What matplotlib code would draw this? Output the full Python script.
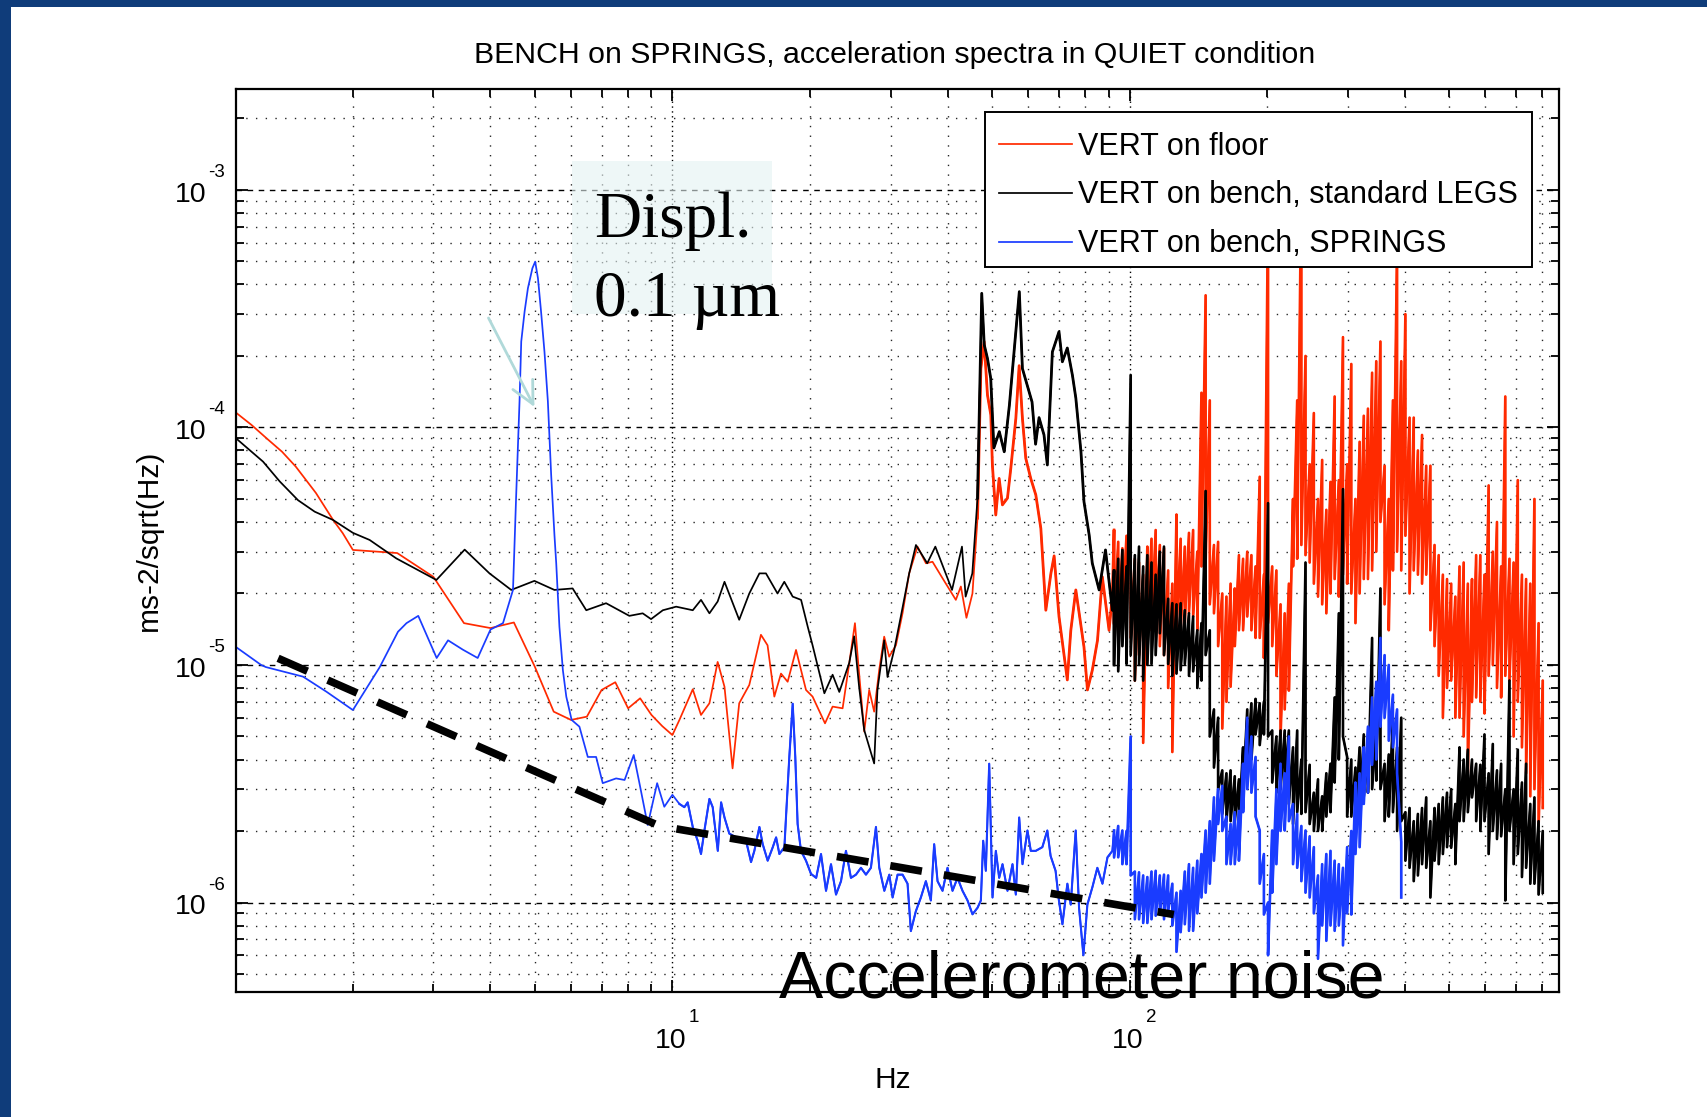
import matplotlib
matplotlib.use('Agg')
import matplotlib.pyplot as plt
import numpy as np
from matplotlib.patches import Rectangle
from matplotlib.ticker import LogLocator, NullFormatter
from matplotlib import transforms as mtransforms

plt.rcParams['font.family'] = ['Liberation Sans', 'DejaVu Sans']

# ---------------- data (Hz, m s^-2 / sqrt(Hz)) ----------------
red_low = [(1.1, 1.17e-4), (1.2, 1.025e-4), (1.3, 8.94e-5), (1.4, 7.9e-5), (1.5, 6.84e-5),
           (1.66, 5.3e-5), (1.81, 4.08e-5), (1.9, 3.59e-5), (2.0, 3.05e-5), (2.5, 2.96e-5),
           (3.0, 2.35e-5), (3.5, 1.5e-5), (4.0, 1.43e-5), (4.5, 1.51e-5), (5.0, 9.84e-6),
           (5.5, 6.36e-6), (6.0, 5.87e-6), (6.5, 6.06e-6), (7.0, 7.85e-6), (7.5, 8.46e-6),
           (8.0, 6.57e-6), (8.5, 7.24e-6), (9.0, 6.16e-6), (9.5, 5.53e-6), (10.0, 5.07e-6)]
red_mid = [(10.36, 5.87e-6), (11.08, 7.9e-6), (11.55, 6.16e-6), (12.05, 6.9e-6), (12.56, 1.03e-5),
           (13.0, 8.1e-6), (13.54, 3.67e-6), (14.0, 6.9e-6), (14.73, 8.24e-6), (15.62, 1.34e-5),
           (16.15, 1.21e-5), (16.71, 7.36e-6), (17.28, 9.2e-6), (17.87, 8.5e-6), (18.64, 1.157e-5),
           (19.6, 7.85e-6), (20.26, 7.36e-6), (21.57, 5.68e-6), (22.41, 6.68e-6), (23.57, 6.57e-6),
           (24.37, 1.016e-5), (25.08, 1.5e-5), (25.5, 1.016e-5), (26.28, 5.24e-6), (26.95, 7.85e-6),
           (27.63, 6.36e-6), (28.34, 9.53e-6), (29.06, 1.316e-5), (29.8, 1.084e-5), (30.83, 1.21e-5),
           (31.87, 1.65e-5), (32.96, 2.43e-5), (34.37, 3.15e-5), (35.86, 2.68e-5), (37.07, 2.72e-5),
           (38.98, 2.32e-5), (41.69, 1.88e-5), (42.76, 2.14e-5), (43.98, 1.58e-5), (45.33, 2.0e-5),
           (46.5, 4.15e-5), (47.29, 1.77e-4), (48.08, 2.3e-4), (48.89, 1.37e-4), (49.72, 1.13e-4),
           (50.12, 6.95e-5), (50.98, 4.28e-5), (51.85, 6.1e-5), (52.72, 4.72e-5), (54.07, 5.04e-5),
           (54.99, 6.73e-5), (56.4, 1.09e-4), (57.35, 1.82e-4), (58.31, 1.09e-4), (59.3, 7.41e-5),
           (60.8, 6.1e-5), (62.37, 5.2e-5), (63.97, 3.76e-5), (65.6, 1.7e-5), (67.3, 2.43e-5),
           (68.4, 2.88e-5), (70.1, 1.6e-5), (73.1, 8.65e-6), (74.4, 1.4e-5), (76.3, 2.07e-5),
           (77.6, 1.65e-5), (79.5, 1.19e-5), (80.9, 7.85e-6), (82.9, 9.5e-6), (85.1, 1.27e-5),
           (87.2, 2.35e-5), (90.2, 1.4e-5), (91.7, 1.94e-5)]

black_low = [(1.11, 9.0e-5), (1.272, 7.18e-5), (1.383, 5.93e-5), (1.517, 4.94e-5), (1.65, 4.42e-5),
             (1.809, 4.08e-5), (2.0, 3.6e-5), (2.176, 3.36e-5), (2.489, 2.81e-5), (3.046, 2.28e-5),
             (3.512, 3.06e-5), (3.98, 2.43e-5), (4.44, 2.07e-5), (4.99, 2.26e-5), (5.52, 2.07e-5),
             (6.05, 2.1e-5), (6.48, 1.7e-5), (7.16, 1.82e-5), (8.05, 1.61e-5), (8.61, 1.65e-5),
             (8.98, 1.56e-5), (9.53, 1.7e-5), (10.19, 1.76e-5)]
black_mid = [(11.08, 1.7e-5), (11.55, 1.88e-5), (12.05, 1.65e-5), (12.56, 1.85e-5), (13.0, 2.24e-5),
             (14.0, 1.55e-5), (14.73, 2.0e-5), (15.5, 2.43e-5), (16.02, 2.43e-5), (16.98, 2.0e-5),
             (17.57, 2.24e-5), (18.33, 1.94e-5), (19.12, 1.88e-5), (19.77, 1.45e-5), (20.26, 1.21e-5),
             (21.5, 7.6e-6), (22.41, 9.1e-6), (23.18, 7.7e-6), (24.37, 1.02e-5), (24.98, 1.32e-5),
             (25.61, 8.1e-6), (26.28, 5.32e-6), (27.63, 3.85e-6), (28.09, 7.85e-6), (29.06, 1.27e-5),
             (29.55, 8.9e-6), (30.57, 1.16e-5), (31.6, 1.6e-5), (32.96, 2.43e-5), (34.1, 3.2e-5),
             (36.1, 2.68e-5), (37.6, 3.15e-5), (40.9, 2.07e-5), (43.0, 3.15e-5), (43.8, 1.94e-5),
             (45.3, 2.43e-5), (46.5, 5.04e-5), (47.5, 3.67e-4), (48.1, 2.23e-4), (48.9, 1.95e-4),
             (49.7, 1.61e-4), (50.5, 8.2e-5), (51.9, 9.6e-5), (53.2, 7.9e-5), (54.6, 1.24e-4),
             (57.4, 3.73e-4), (58.3, 1.77e-4), (61.2, 1.28e-4), (62.3, 8.5e-5), (63.4, 1.1e-4),
             (65.0, 9.3e-5), (66.1, 6.95e-5), (67.8, 2.08e-4), (70.1, 2.53e-4), (71.3, 1.89e-4),
             (73.1, 2.16e-4), (75.0, 1.66e-4), (76.3, 1.33e-4), (78.3, 7.9e-5), (79.5, 4.87e-5),
             (81.6, 3.53e-5), (82.9, 2.68e-5), (85.8, 2.07e-5), (88.6, 3.05e-5), (91.7, 1.7e-5)]

blue_low = [(1.11, 1.19e-5), (1.26, 1.0e-5), (1.29, 9.8e-6), (1.556, 8.93e-6), (1.75, 7.72e-6),
            (2.0, 6.46e-6), (2.29, 9.8e-6), (2.51, 1.38e-5), (2.62, 1.5e-5), (2.78, 1.61e-5),
            (3.05, 1.07e-5), (3.23, 1.27e-5), (3.48, 1.16e-5), (3.75, 1.07e-5), (4.0, 1.41e-5),
            (4.26, 1.5e-5), (4.48, 2.07e-5), (4.55, 5.04e-5), (4.63, 1.29e-4), (4.67, 2.3e-4),
            (4.75, 3.08e-4), (4.83, 3.86e-4), (4.94, 4.68e-4), (5.01, 4.99e-4), (5.08, 4.25e-4),
            (5.16, 3.08e-4), (5.25, 2.08e-4), (5.34, 1.29e-4), (5.43, 6.3e-5), (5.52, 3.53e-5),
            (5.57, 2.68e-5), (5.66, 1.45e-5), (5.76, 9.5e-6), (5.86, 7.35e-6), (6.02, 5.87e-6),
            (6.26, 5.5e-6), (6.53, 4.1e-6), (6.81, 4.1e-6), (7.04, 3.18e-6), (7.53, 3.33e-6),
            (7.86, 3.28e-6), (8.23, 4.18e-6), (8.47, 3.18e-6), (8.83, 2.12e-6), (9.26, 3.18e-6),
            (9.6, 2.53e-6), (10.0, 2.84e-6)]
blue_mid = [(10.36, 2.6e-6), (10.62, 2.52e-6), (10.8, 2.64e-6), (11.08, 2.08e-6), (11.36, 1.82e-6),
            (11.55, 1.6e-6), (11.75, 2.01e-6), (12.05, 2.73e-6), (12.25, 2.52e-6), (12.57, 1.65e-6),
            (12.78, 2.64e-6), (13.0, 2.28e-6), (13.32, 1.95e-6), (13.78, 1.88e-6), (14.49, 1.82e-6),
            (14.86, 1.48e-6), (15.11, 1.65e-6), (15.5, 2.08e-6), (15.76, 1.76e-6), (16.16, 1.5e-6),
            (16.58, 1.71e-6), (16.86, 1.88e-6), (17.14, 1.6e-6), (17.58, 1.71e-6), (17.72, 2.28e-6),
            (18.02, 4.1e-6), (18.33, 6.87e-6), (18.57, 4.1e-6), (18.79, 2.14e-6), (19.11, 1.65e-6),
            (19.6, 1.5e-6), (20.1, 1.32e-6), (20.63, 1.27e-6), (21.14, 1.6e-6), (21.68, 1.12e-6),
            (22.23, 1.45e-6), (22.8, 1.08e-6), (23.38, 1.23e-6), (23.97, 1.65e-6), (24.58, 1.27e-6),
            (25.21, 1.31e-6), (25.85, 1.4e-6), (26.51, 1.31e-6), (27.18, 1.4e-6), (27.88, 2.08e-6),
            (28.35, 1.4e-6), (29.08, 1.12e-6), (29.82, 1.31e-6), (30.32, 1.05e-6), (31.09, 1.31e-6),
            (31.88, 1.31e-6), (32.69, 1.2e-6), (33.24, 7.58e-7), (34.09, 9.2e-7), (34.96, 1.05e-6),
            (35.85, 1.23e-6), (36.76, 1.02e-6), (37.38, 1.76e-6), (38.02, 1.23e-6), (38.99, 1.12e-6),
            (39.98, 1.4e-6), (41.0, 1.12e-6), (42.04, 1.27e-6), (43.12, 1.12e-6), (44.22, 1.02e-6),
            (45.34, 8.92e-7), (46.5, 9.5e-7), (47.29, 1.02e-6), (47.85, 1.82e-6), (48.49, 1.36e-6),
            (49.32, 3.84e-6), (50.15, 1.05e-6), (51.0, 1.65e-6), (51.86, 1.27e-6), (52.74, 1.45e-6),
            (54.08, 1.12e-6), (55.46, 1.45e-6), (56.4, 1.08e-6), (57.36, 2.28e-6), (58.33, 1.45e-6),
            (59.8, 2.01e-6), (60.82, 1.65e-6), (62.36, 1.65e-6), (64.46, 1.71e-6), (66.09, 2.01e-6),
            (67.2, 1.57e-6), (68.9, 1.36e-6), (70.07, 1.02e-6), (71.32, 8.1e-7), (73.12, 1.2e-6),
            (74.37, 9.8e-7), (76.26, 2.01e-6), (77.55, 9.5e-7), (79.27, 6.0e-7), (80.87, 9.8e-7),
            (82.94, 1.16e-6), (85.04, 1.4e-6), (87.25, 1.2e-6), (89.49, 1.55e-6), (91.74, 1.65e-6)]

# dense high-frequency part: shared frequency slots; two readings per slot
# (the extremes the trace swings between inside that slot)
hf_freq = [92.5, 94.46, 96.46, 98.5, 100.59, 102.72, 104.9, 107.12, 109.39, 111.71,
           114.08, 116.49, 118.96, 121.48, 124.06, 126.69, 129.37, 132.11, 134.91, 137.77,
           140.69, 143.67, 146.72, 149.82, 153.0, 156.24, 159.55, 162.93, 166.38, 169.91,
           173.51, 177.18, 180.94, 184.77, 188.68, 192.68, 196.76, 200.93, 205.19, 209.54,
           213.98, 218.51, 223.14, 227.87, 232.7, 237.63, 242.66, 247.8, 253.05, 258.41,
           263.89, 269.48, 275.19, 281.02, 286.97, 293.05, 299.26, 305.6, 312.07, 318.69,
           325.44, 332.33, 339.37, 346.56, 353.9, 361.4, 369.06, 376.88, 384.86, 393.02,
           401.34, 409.84, 418.53, 427.4, 436.45, 445.7, 455.14, 464.78, 474.63, 484.69,
           494.96, 505.44, 516.15, 527.09, 538.26, 549.66, 561.31, 573.2, 585.34, 597.74,
           610.41, 623.34, 636.55, 650.03, 663.8, 677.87, 692.23, 706.9, 721.87, 737.17,
           752.79, 768.74, 785.02, 801.65]
red_hf_a = [3.7e-5, 1.4e-5, 3.1e-5, 1.7e-5, 5.1e-5, 8.6e-6, 2.7e-5, 4.7e-6, 3.15e-5, 1.4e-5,
            3.7e-5, 1.2e-5, 3.1e-5, 2.5e-5, 4.3e-6, 4.3e-5, 1.4e-5, 3.15e-5, 1.65e-5, 3.7e-5,
            1.4e-5, 1.4e-4, 3.6e-4, 1.3e-4, 1.65e-5, 3.3e-5, 5.4e-6, 1.94e-5, 8.1e-6, 2.1e-5,
            1.4e-5, 2.8e-5, 1.6e-5, 2.9e-5, 1.3e-5, 6.2e-5, 1.07e-5, 9e-4, 1.2e-5, 2.5e-5,
            5.0e-6, 1.65e-5, 7.8e-6, 5e-5, 1.3e-4, 1.2e-3, 2.0e-4, 2.7e-5, 1.15e-4, 1.94e-5,
            7.3e-5, 1.65e-5, 5.9e-5, 1.35e-4, 1.94e-5, 2.4e-4, 2.2e-5, 1.85e-4, 1.5e-5, 8.7e-5,
            2.3e-5, 1.2e-4, 2.5e-5, 1.9e-4, 2.3e-4, 6.9e-5, 1.4e-5, 1.3e-4, 6e-4, 2.5e-5,
            3.0e-4, 2.0e-5, 1.1e-4, 2.4e-5, 9.3e-5, 2.4e-5, 6.9e-5, 1.2e-5, 2.9e-5, 6.0e-6,
            2.3e-5, 8.6e-6, 1.94e-5, 6e-6, 2.7e-5, 3.5e-6, 2.3e-5, 7.3e-6, 2.9e-5, 6.25e-6,
            5.7e-5, 1.0e-5, 4e-5, 7.3e-6, 1.35e-4, 8.6e-6, 2.7e-5, 6e-5, 4.5e-6, 2.3e-5,
            2.8e-6, 5e-5, 2.1e-6, 8.6e-6]
red_hf_b = [1.5e-5, 3.3e-5, 1.6e-5, 3.5e-5, 1.3e-5, 2.8e-5, 1.1e-5, 2.4e-5, 1.3e-5, 3.4e-5,
            1.5e-5, 3.2e-5, 1.1e-5, 8e-6, 2.2e-5, 1.4e-5, 3.4e-5, 1.5e-5, 3.6e-5, 1.6e-5,
            3.0e-5, 2.6e-5, 2.7e-5, 1.8e-5, 3.2e-5, 1.2e-5, 2.0e-5, 7e-6, 2.2e-5, 1.2e-5,
            2.9e-5, 1.4e-5, 3.0e-5, 1.4e-5, 2.6e-5, 1.3e-5, 2.4e-5, 1.5e-5, 2.6e-5, 9e-6,
            1.8e-5, 6.5e-6, 2.2e-5, 2.6e-5, 2.8e-5, 3.2e-5, 2.9e-5, 7e-5, 2.2e-5, 5e-5,
            1.8e-5, 4.5e-5, 2.0e-5, 2.3e-5, 6e-5, 2.4e-5, 7e-5, 2.0e-5, 5e-5, 2.0e-5,
            1.12e-4, 2.3e-5, 1.7e-4, 3e-5, 4e-5, 1.8e-5, 5e-5, 2.5e-5, 3e-5, 1.9e-4,
            3.5e-5, 1.1e-4, 2.5e-5, 8e-5, 2.2e-5, 6.9e-5, 1.4e-5, 3.2e-5, 9e-6, 2.4e-5,
            8e-6, 2.2e-5, 6e-6, 2.6e-5, 5e-6, 2.2e-5, 7e-6, 2.9e-5, 7e-6, 2.4e-5,
            9e-6, 3e-5, 8e-6, 2.6e-5, 9e-6, 2.8e-5, 5e-6, 7e-6, 2.4e-5, 3.5e-6,
            2.2e-5, 3e-6, 1.5e-5, 2.5e-6]
black_hf_a = [2.5e-5, 9.4e-6, 3.05e-5, 1.01e-5, 1.66e-4, 8.6e-6, 3.15e-5, 8.6e-6, 2.9e-5, 1.01e-5,
              2.4e-5, 1.36e-5, 3.15e-5, 1.01e-5, 1.82e-5, 9.2e-6, 1.82e-5, 1.01e-5, 1.65e-5, 9.4e-6,
              1.4e-5, 8.6e-6, 5.4e-5, 1.4e-5, 3.7e-6, 6.0e-6, 2.36e-6, 3.5e-6, 2.2e-6, 3.4e-6,
              2.14e-6, 2.9e-6, 3.7e-6, 6.9e-6, 5.1e-6, 6.9e-6, 5.1e-6, 4.8e-5, 5.3e-6, 2.9e-6,
              5.3e-6, 3.2e-6, 5.3e-6, 2.14e-6, 5.3e-6, 2.36e-6, 2.7e-5, 2.14e-6, 2.9e-6, 2.0e-6,
              2.8e-6, 2.3e-6, 3.84e-6, 7.3e-6, 1.65e-5, 5.5e-5, 4.1e-6, 2.3e-6, 3.7e-6, 2.36e-6,
              5.1e-6, 2.9e-6, 1.3e-5, 3.26e-6, 2.1e-5, 3.84e-6, 2.3e-6, 6.0e-6, 2.0e-6, 6.0e-6,
              1.5e-6, 2.5e-6, 1.23e-6, 2.36e-6, 1.45e-6, 2.77e-6, 1.05e-6, 2.5e-6, 1.45e-6, 2.77e-6,
              1.71e-6, 3.0e-6, 1.45e-6, 4.5e-6, 2.2e-6, 4.4e-6, 2.77e-6, 3.84e-6, 2.0e-6, 5.1e-6,
              1.6e-6, 4.65e-6, 1.85e-6, 3.84e-6, 1.02e-6, 8.6e-6, 1.45e-6, 4.4e-6, 1.28e-6, 3.84e-6,
              1.2e-6, 2.77e-6, 1.08e-6, 2.0e-6]
black_hf_b = [1.0e-5, 2.8e-5, 1.2e-5, 2.6e-5, 1.1e-5, 2.9e-5, 1.0e-5, 2.6e-5, 1.0e-5, 2.7e-5,
              1.1e-5, 3.0e-5, 1.1e-5, 1.9e-5, 9e-6, 1.8e-5, 9.5e-6, 1.7e-5, 9e-6, 1.6e-5,
              8e-6, 1.5e-5, 1.1e-5, 5e-6, 6.5e-6, 3.0e-6, 3.6e-6, 2.2e-6, 3.6e-6, 2.2e-6,
              3.3e-6, 4.5e-6, 6.5e-6, 4.0e-6, 7.2e-6, 4.6e-6, 7.0e-6, 5.0e-6, 3.2e-6, 5.0e-6,
              3.0e-6, 5.3e-6, 2.6e-6, 4.5e-6, 2.4e-6, 4.0e-6, 2.4e-6, 3.8e-6, 2.0e-6, 3.3e-6,
              2.0e-6, 3.5e-6, 2.4e-6, 3.2e-6, 4.0e-6, 5.0e-6, 2.3e-6, 4.0e-6, 2.3e-6, 4.5e-6,
              2.8e-6, 4.5e-6, 3.0e-6, 5.5e-6, 3.0e-6, 2.2e-6, 4.2e-6, 2.4e-6, 4.5e-6, 2.2e-6,
              2.4e-6, 1.4e-6, 2.2e-6, 1.3e-6, 2.5e-6, 1.4e-6, 2.2e-6, 1.5e-6, 2.6e-6, 1.6e-6,
              2.9e-6, 1.7e-6, 2.6e-6, 2.2e-6, 4.0e-6, 2.4e-6, 4.0e-6, 2.2e-6, 3.8e-6, 2.2e-6,
              3.5e-6, 2.0e-6, 3.6e-6, 1.9e-6, 3.0e-6, 2.0e-6, 3.0e-6, 1.6e-6, 3.2e-6, 1.4e-6,
              2.6e-6, 1.2e-6, 2.2e-6, 1.1e-6]
blue_hf_a = [2.01e-6, 1.55e-6, 2.01e-6, 1.45e-6, 5.0e-6, 8.5e-7, 1.34e-6, 8.2e-7, 1.28e-6, 8.5e-7,
             1.36e-6, 8.9e-7, 1.31e-6, 9.2e-7, 1.2e-6, 6.2e-7, 1.12e-6, 8.1e-7, 1.45e-6, 7.6e-7,
             1.5e-6, 1.05e-6, 2.01e-6, 1.2e-6, 2.77e-6, 2.14e-6, 3.1e-6, 1.45e-6, 2.14e-6, 1.45e-6,
             2.43e-6, 3.84e-6, 6.0e-6, 2.9e-6, 4.1e-6, 2.01e-6, 8.9e-7, 6.0e-7, 2.01e-6, 1.45e-6,
             3.84e-6, 2.01e-6, 5.0e-6, 1.45e-6, 2.36e-6, 1.23e-6, 2.01e-6, 1.05e-6, 1.71e-6, 5.8e-7,
             1.45e-6, 6.9e-7, 1.65e-6, 7.6e-7, 1.45e-6, 6.6e-7, 1.71e-6, 8.9e-7, 3.2e-6, 1.71e-6,
             4.5e-6, 2.9e-6, 7.3e-6, 4.0e-6, 1.3e-5, 6.0e-6, 1.0e-5, 4.5e-6, 6.5e-6, 1.05e-6]
blue_hf_b = [1.55e-6, 2.1e-6, 1.45e-6, 2.0e-6, 1.3e-6, 1.35e-6, 8.5e-7, 1.3e-6, 8.2e-7, 1.35e-6,
             8.8e-7, 1.3e-6, 8.5e-7, 1.3e-6, 8e-7, 1.1e-6, 7.5e-7, 1.35e-6, 7.6e-7, 1.4e-6,
             9e-7, 1.6e-6, 1.1e-6, 2.2e-6, 1.5e-6, 3.0e-6, 2.0e-6, 2.3e-6, 1.45e-6, 2.4e-6,
             1.5e-6, 2.4e-6, 3.0e-6, 5.0e-6, 2.3e-6, 1.2e-6, 1.6e-6, 1.0e-6, 1.1e-6, 3.0e-6,
             2.0e-6, 3.5e-6, 2.2e-6, 2.6e-6, 1.4e-6, 2.1e-6, 1.1e-6, 1.9e-6, 9e-7, 1.3e-6,
             8e-7, 1.6e-6, 8e-7, 1.5e-6, 8e-7, 1.4e-6, 9e-7, 2.0e-6, 1.6e-6, 3.5e-6,
             2.6e-6, 5.5e-6, 3.8e-6, 8.5e-6, 5.5e-6, 1.1e-5, 4.8e-6, 7.5e-6, 3.5e-6, 1.8e-6]

# accelerometer noise (dashed guide) and arrow annotation, read in data units
noise_f = [1.372, 9.37, 125.0]
noise_v = [1.067e-5, 2.1e-6, 8.9e-7]
arrow_tail = (3.96, 2.89e-4)
arrow_head = (4.99, 1.22e-4)

labels = ['VERT on floor', 'VERT on bench, standard LEGS', 'VERT on bench, SPRINGS']
colors = ['#ff2a00', 'black', '#1a3cff']
busy_from = [46.0, 46.0, 10.3]       # where each trace becomes a busy band below hf_freq[0]
busy_lw = [2.0, 2.0, 1.5]
hf_lw = 1.9
title = 'BENCH on SPRINGS, acceleration spectra in QUIET condition'
x_tick_exps = [1, 2]
y_tick_exps = [-6, -5, -4, -3]


def series(low, mid, hf_a, hf_b):
    a = np.array(hf_a)
    b = np.array(hf_b)
    hf_v = np.column_stack([np.maximum(a, b), np.minimum(a, b)]).ravel()
    hf_f = np.repeat(hf_freq[:len(a)], 2)
    f = np.concatenate([[p[0] for p in low], [p[0] for p in mid], hf_f])
    v = np.concatenate([[p[1] for p in low], [p[1] for p in mid], hf_v])
    return f, v


W, H = 1708, 1117
fig = plt.figure(figsize=(W / 100, H / 100), dpi=100)
fig.patch.set_facecolor('white')
# slide background strips
fig.patches.append(Rectangle((0, 0), 11 / W, 1, transform=fig.transFigure,
                             facecolor='#0f3c7a', edgecolor='none', zorder=0))
fig.patches.append(Rectangle((0, 1 - 7 / H), 1, 7 / H, transform=fig.transFigure,
                             facecolor='#0f3c7a', edgecolor='none', zorder=0))

ax = fig.add_axes([236 / W, 1 - 992 / H, (1559 - 236) / W, (992 - 89) / H])
ax.set_xscale('log')
ax.set_yscale('log')
ax.set_xlim(1.11, 870)
ax.set_ylim(4.2e-7, 2.66e-3)

for (low, mid, ha, hb), lab, col, d0, dlw in zip([(red_low, red_mid, red_hf_a, red_hf_b),
                                                   (black_low, black_mid, black_hf_a, black_hf_b),
                                                   (blue_low, blue_mid, blue_hf_a, blue_hf_b)],
                                                  labels, colors, busy_from, busy_lw):
    f, v = series(low, mid, ha, hb)
    ax.plot(f, v, color=col, lw=1.25, label=lab, zorder=2)
    m = (f >= d0) & (f <= hf_freq[0])
    ax.plot(f[m], v[m], color=col, lw=dlw, zorder=2)
    m = f >= hf_freq[0]
    ax.plot(f[m], v[m], color=col, lw=hf_lw, zorder=2)

ax.plot(noise_f, noise_v, color='black', lw=5.5, dashes=(4.2, 2.9),
        dash_capstyle='butt', zorder=4)

ax.annotate('', xy=arrow_head, xytext=arrow_tail,
            arrowprops=dict(arrowstyle='->', color='#b0d9d9', lw=2.0,
                            mutation_scale=40, shrinkA=0, shrinkB=0), zorder=5)

# grid
ax.xaxis.set_major_locator(LogLocator(base=10))
ax.yaxis.set_major_locator(LogLocator(base=10))
ax.xaxis.set_minor_locator(LogLocator(base=10, subs=np.arange(2, 10)))
ax.yaxis.set_minor_locator(LogLocator(base=10, subs=np.arange(2, 10)))
ax.xaxis.set_minor_formatter(NullFormatter())
ax.yaxis.set_minor_formatter(NullFormatter())
ax.grid(True, which='minor', axis='both', color='black', linestyle=(0, (1, 6)), linewidth=1.0, alpha=0.85)
ax.grid(True, which='major', axis='x', color='black', linestyle=(0, (1, 2.5)), linewidth=1.0)
ax.grid(True, which='major', axis='y', color='black', linestyle=(0, (4, 4)), linewidth=1.0)
ax.set_axisbelow(True)

ax.tick_params(which='both', direction='in', top=True, right=True, width=1.3,
               labelbottom=False, labelleft=False)
ax.tick_params(which='major', length=8.5)
ax.tick_params(which='minor', length=5.5)
for s in ax.spines.values():
    s.set_linewidth(1.6)

# MATLAB-style tick labels: "10" with a small raised exponent
ytr = mtransforms.blended_transform_factory(ax.transAxes, ax.transData)
for e in y_tick_exps:
    ax.text(0, 10.0 ** e, '10', fontsize=20.5, ha='right', va='baseline', clip_on=False,
            transform=mtransforms.offset_copy(ytr, x=-29, y=-11.7, units='dots'))
    ax.text(0, 10.0 ** e, str(e), fontsize=13.5, ha='left', va='baseline', clip_on=False,
            transform=mtransforms.offset_copy(ytr, x=-27.5, y=13, units='dots'))
xtr = mtransforms.blended_transform_factory(ax.transData, ax.transAxes)
for e in x_tick_exps:
    ax.text(10.0 ** e, 0, '10', fontsize=20.5, ha='center', va='baseline', clip_on=False,
            transform=mtransforms.offset_copy(xtr, x=-2, y=-56, units='dots'))
    ax.text(10.0 ** e, 0, str(e), fontsize=13.5, ha='left', va='baseline', clip_on=False,
            transform=mtransforms.offset_copy(xtr, x=16, y=-30, units='dots'))

ax.set_title(title, fontsize=21.75, x=(894.9 - 236) / 1323, y=(992 - 63) / 903,
             va='baseline', pad=0)
ax.set_xlabel('Hz', fontsize=21.5)
ax.set_ylabel('ms-2/sqrt(Hz)', fontsize=21.5)
ax.xaxis.set_label_coords((893 - 236) / 1323, (992 - 1066) / 903)
ax.yaxis.set_label_coords((163 - 236) / 1323, 0.5)

# legend: white boxed frame drawn separately, entries placed slightly lower inside it
frame_x0, frame_x1 = (985 - 236) / 1323, (1532 - 236) / 1323
frame_y0, frame_y1 = (992 - 267) / 903, (992 - 112) / 903
ax.add_patch(Rectangle((frame_x0, frame_y0), frame_x1 - frame_x0, frame_y1 - frame_y0,
                       transform=ax.transAxes, facecolor='white', edgecolor='black',
                       linewidth=1.4, zorder=9, clip_on=False))
leg = ax.legend(loc='upper right', bbox_to_anchor=(frame_x1, frame_y1 - 5.5 / 903),
                fontsize=22, frameon=False, borderpad=0.46, handlelength=2.4,
                handletextpad=0.2, labelspacing=0.62, borderaxespad=0)
leg.set_zorder(10)

# annotation text box
fig.patches.append(Rectangle((572 / W, 1 - 314 / H), 200 / W, 153 / H, transform=fig.transFigure,
                             facecolor='#e4f2f2', edgecolor='none', alpha=0.6, zorder=1.5))
fig.text(594 / W, 1 - 237 / H, 'Displ.', family=['Liberation Serif', 'DejaVu Serif'],
         fontsize=47, va='baseline', ha='left', zorder=3)
fig.text(594 / W, 1 - 316 / H, '0.1 \u00b5m', family=['Liberation Serif', 'DejaVu Serif'],
         fontsize=47, va='baseline', ha='left', zorder=3)
fig.text(779 / W, 1 - 997 / H, 'Accelerometer noise', fontsize=47.8,
         va='baseline', ha='left', zorder=3)

fig.savefig('out.png', dpi=100)
